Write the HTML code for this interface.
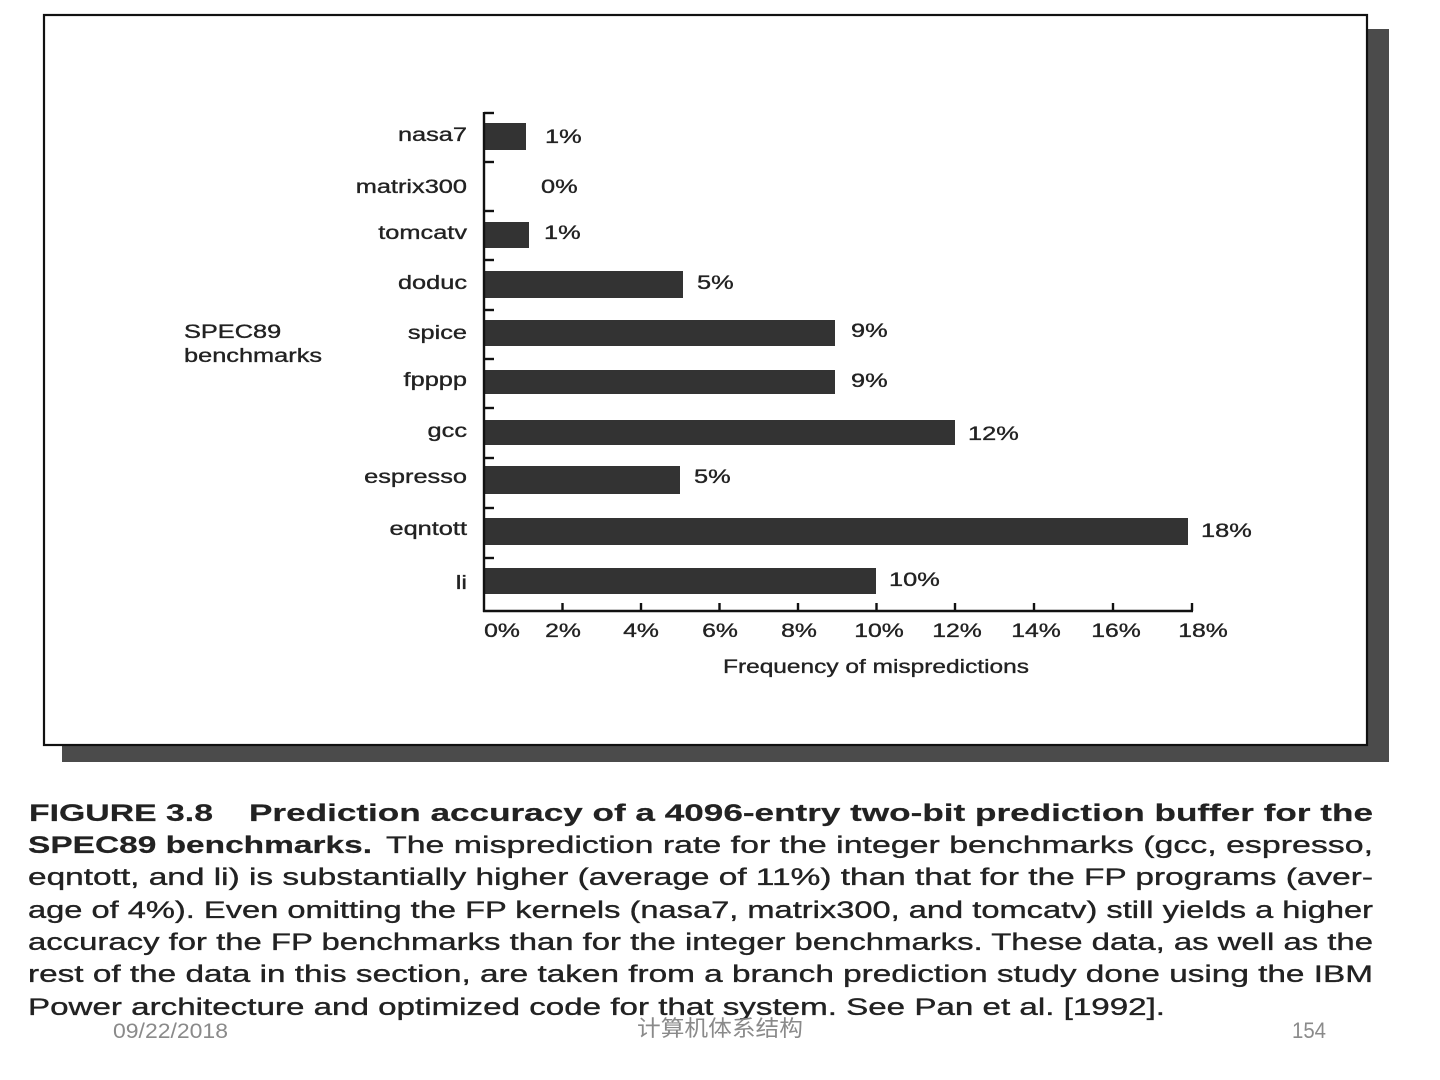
<!DOCTYPE html>
<html>
<head>
<meta charset="utf-8">
<style>
  html, body { margin:0; padding:0; background:#fff; }
  body { width:1440px; height:1080px; overflow:hidden; }
  svg { display:block; }
  .t { font-family:"Liberation Sans", Arial, sans-serif; fill:#222; stroke:#222; stroke-width:0.35; }
  .b { font-weight:bold; stroke-width:0.2; }
  .f { font-family:"Liberation Sans", "Noto Sans CJK SC", sans-serif; fill:#8a8a8a; }
</style>
</head>
<body>
<svg width="1440" height="1080" viewBox="0 0 1440 1080" xmlns="http://www.w3.org/2000/svg">
  <!-- shadow -->
  <rect x="1368" y="29" width="21" height="733" fill="#4b4b4b"/>
  <rect x="62" y="746" width="1327" height="16" fill="#4b4b4b"/>
  <!-- box -->
  <rect x="44" y="15" width="1323" height="730" fill="#fff" stroke="#111" stroke-width="2.2"/>

  <!-- bars -->
  <g fill="#333">
    <rect x="484" y="123" width="42" height="27"/>
    <rect x="484" y="222" width="45" height="26"/>
    <rect x="484" y="271" width="199" height="27"/>
    <rect x="484" y="320" width="351" height="26"/>
    <rect x="484" y="370" width="351" height="24"/>
    <rect x="484" y="420" width="471" height="25"/>
    <rect x="484" y="466" width="196" height="28"/>
    <rect x="484" y="518" width="704" height="27"/>
    <rect x="484" y="568" width="392" height="26"/>
  </g>

  <!-- axes -->
  <g stroke="#111" stroke-width="2.4" fill="none">
    <line x1="484" y1="112" x2="484" y2="612"/>
    <line x1="483" y1="611" x2="1193" y2="611"/>
    <!-- y ticks -->
    <line x1="484" y1="113" x2="494" y2="113"/>
    <line x1="484" y1="162" x2="494" y2="162"/>
    <line x1="484" y1="211" x2="494" y2="211"/>
    <line x1="484" y1="260" x2="494" y2="260"/>
    <line x1="484" y1="310" x2="494" y2="310"/>
    <line x1="484" y1="359" x2="494" y2="359"/>
    <line x1="484" y1="408" x2="494" y2="408"/>
    <line x1="484" y1="458" x2="494" y2="458"/>
    <line x1="484" y1="508" x2="494" y2="508"/>
    <line x1="484" y1="558" x2="494" y2="558"/>
    <!-- x ticks -->
    <line x1="562.5" y1="603" x2="562.5" y2="611"/>
    <line x1="641" y1="603" x2="641" y2="611"/>
    <line x1="719.5" y1="603" x2="719.5" y2="611"/>
    <line x1="798" y1="603" x2="798" y2="611"/>
    <line x1="876.5" y1="603" x2="876.5" y2="611"/>
    <line x1="955" y1="603" x2="955" y2="611"/>
    <line x1="1034" y1="603" x2="1034" y2="611"/>
    <line x1="1113" y1="603" x2="1113" y2="611"/>
    <line x1="1192" y1="603" x2="1192" y2="611"/>
  </g>

  <!-- category labels -->
  <g class="t" font-size="19.5" text-anchor="end">
    <text transform="translate(467,141) scale(1.3,1)">nasa7</text>
    <text transform="translate(467,193) scale(1.3,1)">matrix300</text>
    <text transform="translate(467,239) scale(1.3,1)">tomcatv</text>
    <text transform="translate(467,289) scale(1.3,1)">doduc</text>
    <text transform="translate(467,339) scale(1.3,1)">spice</text>
    <text transform="translate(467,386) scale(1.3,1)">fpppp</text>
    <text transform="translate(467,437) scale(1.3,1)">gcc</text>
    <text transform="translate(467,483) scale(1.3,1)">espresso</text>
    <text transform="translate(467,535) scale(1.3,1)">eqntott</text>
    <text transform="translate(467,589) scale(1.3,1)">li</text>
  </g>

  <!-- SPEC89 benchmarks -->
  <g class="t" font-size="19.5">
    <text transform="translate(184,338) scale(1.3,1)">SPEC89</text>
    <text transform="translate(184,362) scale(1.3,1)">benchmarks</text>
  </g>

  <!-- value labels -->
  <g class="t" font-size="19.5">
    <text transform="translate(545,143) scale(1.3,1)">1%</text>
    <text transform="translate(541,193) scale(1.3,1)">0%</text>
    <text transform="translate(544,239) scale(1.3,1)">1%</text>
    <text transform="translate(697,289) scale(1.3,1)">5%</text>
    <text transform="translate(851,337) scale(1.3,1)">9%</text>
    <text transform="translate(851,387) scale(1.3,1)">9%</text>
    <text transform="translate(968,440) scale(1.3,1)">12%</text>
    <text transform="translate(694,483) scale(1.3,1)">5%</text>
    <text transform="translate(1201,537) scale(1.3,1)">18%</text>
    <text transform="translate(889,586) scale(1.3,1)">10%</text>
  </g>

  <!-- tick labels -->
  <g class="t" font-size="19.5" text-anchor="middle">
    <text transform="translate(502,637) scale(1.27,1)">0%</text>
    <text transform="translate(563,637) scale(1.27,1)">2%</text>
    <text transform="translate(641,637) scale(1.27,1)">4%</text>
    <text transform="translate(720,637) scale(1.27,1)">6%</text>
    <text transform="translate(799,637) scale(1.27,1)">8%</text>
    <text transform="translate(879,637) scale(1.27,1)">10%</text>
    <text transform="translate(957,637) scale(1.27,1)">12%</text>
    <text transform="translate(1036,637) scale(1.27,1)">14%</text>
    <text transform="translate(1116,637) scale(1.27,1)">16%</text>
    <text transform="translate(1203,637) scale(1.27,1)">18%</text>
  </g>
  <text class="t" font-size="19.5" x="723" y="673" textLength="306" lengthAdjust="spacingAndGlyphs">Frequency of mispredictions</text>

  <!-- caption -->
  <g class="t" font-size="24.5" fill="#1e1e1e">
    <text class="b" x="29" y="821" textLength="184" lengthAdjust="spacingAndGlyphs">FIGURE 3.8</text>
    <text class="b" x="249" y="821" textLength="1124" lengthAdjust="spacingAndGlyphs">Prediction accuracy of a 4096-entry two-bit prediction buffer for the</text>
    <text class="b" x="28" y="853" textLength="344" lengthAdjust="spacingAndGlyphs">SPEC89 benchmarks.</text>
    <text x="386" y="853" textLength="987" lengthAdjust="spacingAndGlyphs">The misprediction rate for the integer benchmarks (gcc, espresso,</text>
    <text x="28" y="885" textLength="1345" lengthAdjust="spacingAndGlyphs">eqntott, and li) is substantially higher (average of 11%) than that for the FP programs (aver-</text>
    <text x="28" y="918" textLength="1345" lengthAdjust="spacingAndGlyphs">age of 4%). Even omitting the FP kernels (nasa7, matrix300, and tomcatv) still yields a higher</text>
    <text x="28" y="950" textLength="1345" lengthAdjust="spacingAndGlyphs">accuracy for the FP benchmarks than for the integer benchmarks. These data, as well as the</text>
    <text x="28" y="982" textLength="1345" lengthAdjust="spacingAndGlyphs">rest of the data in this section, are taken from a branch prediction study done using the IBM</text>
    <text x="28" y="1015" textLength="1137" lengthAdjust="spacingAndGlyphs">Power architecture and optimized code for that system. See Pan et al. [1992].</text>
  </g>

  <!-- footer -->
  <text class="f" font-size="21" x="113" y="1038" textLength="115" lengthAdjust="spacingAndGlyphs">09/22/2018</text>
  <text class="f" font-size="22" x="637" y="1036" textLength="166" lengthAdjust="spacingAndGlyphs">计算机体系结构</text>
  <text class="f" font-size="22" x="1292" y="1038" textLength="34" lengthAdjust="spacingAndGlyphs">154</text>
</svg>
</body>
</html>
